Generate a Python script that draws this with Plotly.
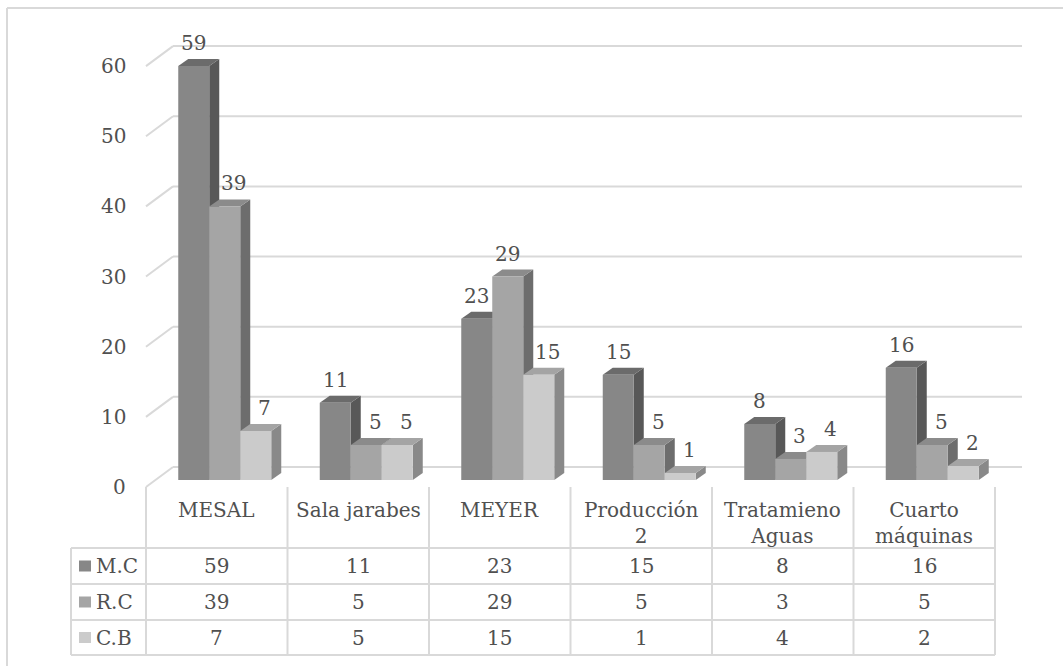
import plotly.graph_objects as go

# ---------------- data ----------------
categories = ["MESAL", "Sala jarabes", "MEYER", "Producción 2", "Tratamieno Aguas", "Cuarto máquinas"]
cat_labels = ["MESAL", "Sala jarabes", "MEYER", "Producción<br>2", "Tratamieno<br>Aguas", "Cuarto<br>máquinas"]
series_names = ["M.C", "R.C", "C.B"]
mc_values = [59, 11, 23, 15, 8, 16]
rc_values = [39, 5, 29, 5, 3, 5]
cb_values = [7, 5, 15, 1, 4, 2]
y_ticks = [0, 10, 20, 30, 40, 50, 60]

series_values = [mc_values, rc_values, cb_values]
front_colors = ["#878787", "#a5a5a5", "#cbcbcb"]
top_colors = ["#6b6b6b", "#8b8b8b", "#a4a4a4"]
side_colors = ["#585858", "#6d6d6d", "#898989"]

# ---------------- geometry (pixels) ----------------
W, H = 1063, 666
PX_X = 141.5      # pixels per category
PX_Y = 7.015      # pixels per value unit
X0_PX = 154       # left edge of the bar plane
ZERO_PX = 480     # y pixel of value 0 on the bar plane
X_RANGE = [(0 - X0_PX) / PX_X - 0.5, (W - X0_PX) / PX_X - 0.5]
Y_RANGE = [(ZERO_PX - H) / PX_Y, ZERO_PX / PX_Y]

def fx(px):
    return px / W

def fy(py):
    return 1 - py / H

BAR_W = 31 / PX_X
DX = 10 / PX_X     # bar depth in x
DY = 7 / PX_Y      # bar depth in y
FLOOR_FRONT_X = (146 - X0_PX) / PX_X - 0.5
FLOOR_BACK_X = (173 - X0_PX) / PX_X - 0.5
BACK_RIGHT_X = (1022 - X0_PX) / PX_X - 0.5
FRONT_DY = -7 / PX_Y
BACK_DY = 13 / PX_Y

GRID = "#d9d9d9"
TXT = "#505050"
FONT = "DejaVu Serif"
FS = 20

fig = go.Figure()
shapes = []
annotations = []

# back wall gridlines and side-wall diagonals
for v in y_ticks:
    shapes.append(dict(type="line", xref="x", yref="y", layer="below",
                       x0=FLOOR_BACK_X, x1=BACK_RIGHT_X, y0=v + BACK_DY, y1=v + BACK_DY,
                       line=dict(color=GRID, width=2)))
    shapes.append(dict(type="line", xref="x", yref="y", layer="below",
                       x0=FLOOR_FRONT_X, x1=FLOOR_BACK_X, y0=v + FRONT_DY, y1=v + BACK_DY,
                       line=dict(color=GRID, width=2)))
    annotations.append(dict(x=FLOOR_FRONT_X, y=v + FRONT_DY, xref="x", yref="y",
                            text=str(v), showarrow=False, xanchor="right", yanchor="middle",
                            xshift=-18, font=dict(family=FONT, size=FS, color=TXT)))

# bars (front faces)
n_series = len(series_values)
for k, (name, vals) in enumerate(zip(series_names, series_values)):
    offset = -n_series * BAR_W / 2 + k * BAR_W
    fig.add_trace(go.Bar(x=list(range(len(categories))), y=vals, name=name,
                         width=BAR_W, offset=offset,
                         marker=dict(color=front_colors[k], line=dict(width=0)),
                         showlegend=False, hoverinfo="skip"))

# 3-D faces and value labels
for i in range(len(categories)):
    for k in range(n_series):
        v = series_values[k][i]
        xl = i - n_series * BAR_W / 2 + k * BAR_W
        xr = xl + BAR_W
        side = f"M {xr},0 L {xr},{v} L {xr + DX},{v + DY} L {xr + DX},{DY} Z"
        top = f"M {xl},{v} L {xr},{v} L {xr + DX},{v + DY} L {xl + DX},{v + DY} Z"
        shapes.append(dict(type="path", xref="x", yref="y", layer="below", path=side,
                           fillcolor=side_colors[k], line=dict(width=0)))
        shapes.append(dict(type="path", xref="x", yref="y", layer="below", path=top,
                           fillcolor=top_colors[k], line=dict(width=0)))
        shift = 0
        if k > 0 and v - series_values[k - 1][i] < 5:
            shift = 9
        annotations.append(dict(x=(xl + xr) / 2, y=v, xref="x", yref="y", text=str(v),
                                showarrow=False, xanchor="center", yanchor="middle",
                                xshift=shift, yshift=23,
                                font=dict(family=FONT, size=FS, color=TXT)))

# ---------------- data table ----------------
TAB_LEFT = 71
COL0 = 146
TAB_TOP = 487
ROW_LINES = [548, 584, 620, 655]
n_cat = len(categories)
TAB_RIGHT = COL0 + n_cat * PX_X

for j in range(n_cat + 1):
    xp = COL0 + j * PX_X
    shapes.append(dict(type="line", xref="paper", yref="paper",
                       x0=fx(xp), x1=fx(xp), y0=fy(TAB_TOP), y1=fy(ROW_LINES[-1]),
                       line=dict(color=GRID, width=2)))
shapes.append(dict(type="line", xref="paper", yref="paper",
                   x0=fx(TAB_LEFT), x1=fx(TAB_LEFT), y0=fy(ROW_LINES[0]), y1=fy(ROW_LINES[-1]),
                   line=dict(color=GRID, width=2)))
for yp in ROW_LINES:
    shapes.append(dict(type="line", xref="paper", yref="paper",
                       x0=fx(TAB_LEFT), x1=fx(TAB_RIGHT), y0=fy(yp), y1=fy(yp),
                       line=dict(color=GRID, width=2)))

for j, lab in enumerate(cat_labels):
    annotations.append(dict(x=fx(COL0 + (j + 0.5) * PX_X), y=fy(496), xref="paper", yref="paper",
                            text=lab, showarrow=False, xanchor="center", yanchor="top",
                            font=dict(family=FONT, size=FS, color=TXT)))

for r, (name, vals) in enumerate(zip(series_names, series_values)):
    yc = (ROW_LINES[r] + ROW_LINES[r + 1]) / 2
    shapes.append(dict(type="rect", xref="paper", yref="paper",
                       x0=fx(79), x1=fx(91), y0=fy(yc - 5.5), y1=fy(yc + 5.5),
                       fillcolor=front_colors[r], line=dict(width=0)))
    annotations.append(dict(x=fx(94), y=fy(yc), xref="paper", yref="paper", text=name,
                            showarrow=False, xanchor="left", yanchor="middle",
                            font=dict(family=FONT, size=FS, color=TXT)))
    for j, v in enumerate(vals):
        annotations.append(dict(x=fx(COL0 + (j + 0.5) * PX_X), y=fy(yc), xref="paper", yref="paper",
                                text=str(v), showarrow=False, xanchor="center", yanchor="middle",
                                font=dict(family=FONT, size=FS, color=TXT)))

# chart frame (left and top edges)
shapes.append(dict(type="line", xref="paper", yref="paper", x0=fx(7), x1=fx(7), y0=fy(8), y1=0,
                   line=dict(color=GRID, width=2)))
shapes.append(dict(type="line", xref="paper", yref="paper", x0=fx(7), x1=1, y0=fy(8), y1=fy(8),
                   line=dict(color=GRID, width=2)))

fig.update_layout(
    width=W, height=H, autosize=False,
    margin=dict(l=0, r=0, t=0, b=0),
    paper_bgcolor="white", plot_bgcolor="white",
    barmode="overlay",
    xaxis=dict(range=X_RANGE, visible=False, fixedrange=True),
    yaxis=dict(range=Y_RANGE, visible=False, fixedrange=True),
    shapes=shapes, annotations=annotations,
    showlegend=False,
)

fig.write_html("out.html")
